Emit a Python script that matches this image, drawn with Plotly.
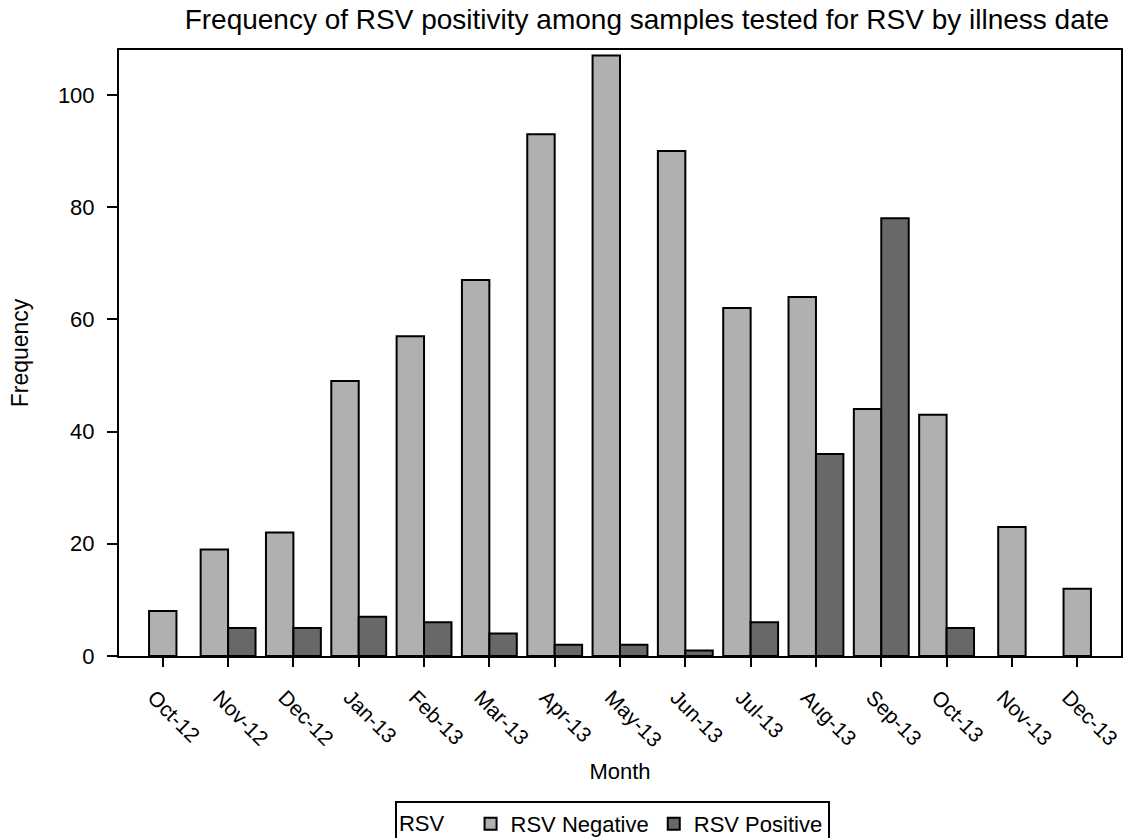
import plotly.graph_objects as go

months = ["Oct-12", "Nov-12", "Dec-12", "Jan-13", "Feb-13", "Mar-13", "Apr-13",
          "May-13", "Jun-13", "Jul-13", "Aug-13", "Sep-13", "Oct-13", "Nov-13", "Dec-13"]
rsv_negative = [8, 19, 22, 49, 57, 67, 93, 107, 90, 62, 64, 44, 43, 23, 12]
rsv_positive = [None, 5, 5, 7, 6, 4, 2, 2, 1, 6, 36, 78, 5, None, None]
y_ticks = [0, 20, 40, 60, 80, 100]

BAR_W = 0.42
neg_offset = [-BAR_W if p is not None else -BAR_W / 2 for p in rsv_positive]

FONT = "Liberation Sans, Arial, sans-serif"

fig = go.Figure()
fig.add_trace(go.Bar(
    x=months, y=rsv_negative, name="RSV Negative",
    width=BAR_W, offset=neg_offset,
    marker=dict(color="#b0b0b0", line=dict(color="black", width=2)),
))
fig.add_trace(go.Bar(
    x=months, y=rsv_positive, name="RSV Positive",
    width=BAR_W, offset=0,
    marker=dict(color="#686868", line=dict(color="black", width=2)),
))

fig.update_layout(
    width=1125, height=838,
    barmode="overlay",
    paper_bgcolor="white", plot_bgcolor="white",
    margin=dict(l=119, r=4, t=50, b=182, autoexpand=False),
    font=dict(family=FONT, color="black", size=21),
    title=dict(text="Frequency of RSV positivity among samples tested for RSV by illness date",
               x=0.575, xanchor="center", y=0.977, yanchor="middle",
               font=dict(size=28, family=FONT, color="black")),
    xaxis=dict(
        range=[-0.67, 14.67], tickangle=45, showgrid=False, automargin=False,
        showline=True, linecolor="black", linewidth=2, mirror=True,
        ticks="outside", ticklen=9, tickwidth=2, tickcolor="black",
        tickfont=dict(size=21), ticklabelshift=-9, ticklabelstandoff=10,
        title=dict(text="Month", font=dict(size=22), standoff=13),
    ),
    yaxis=dict(
        range=[0, 108], tickvals=y_ticks, showgrid=False, zeroline=False, automargin=False,
        showline=True, linecolor="black", linewidth=2, mirror=True,
        ticks="outside", ticklen=10, tickwidth=2, tickcolor="black",
        tickfont=dict(size=22), ticklabelstandoff=8,
        title=dict(text="Frequency", font=dict(size=23), standoff=23),
    ),
    showlegend=True,
    legend=dict(
        orientation="h", x=0.4925, xanchor="center", y=-0.239, yanchor="top",
        title=dict(text="RSV   ", font=dict(size=22)),
        bordercolor="black", borderwidth=2, bgcolor="white",
        font=dict(size=22), itemwidth=30,
    ),
)

fig.write_html("out.html", config={"displayModeBar": False},
               post_script="document.body.style.margin='0';")
